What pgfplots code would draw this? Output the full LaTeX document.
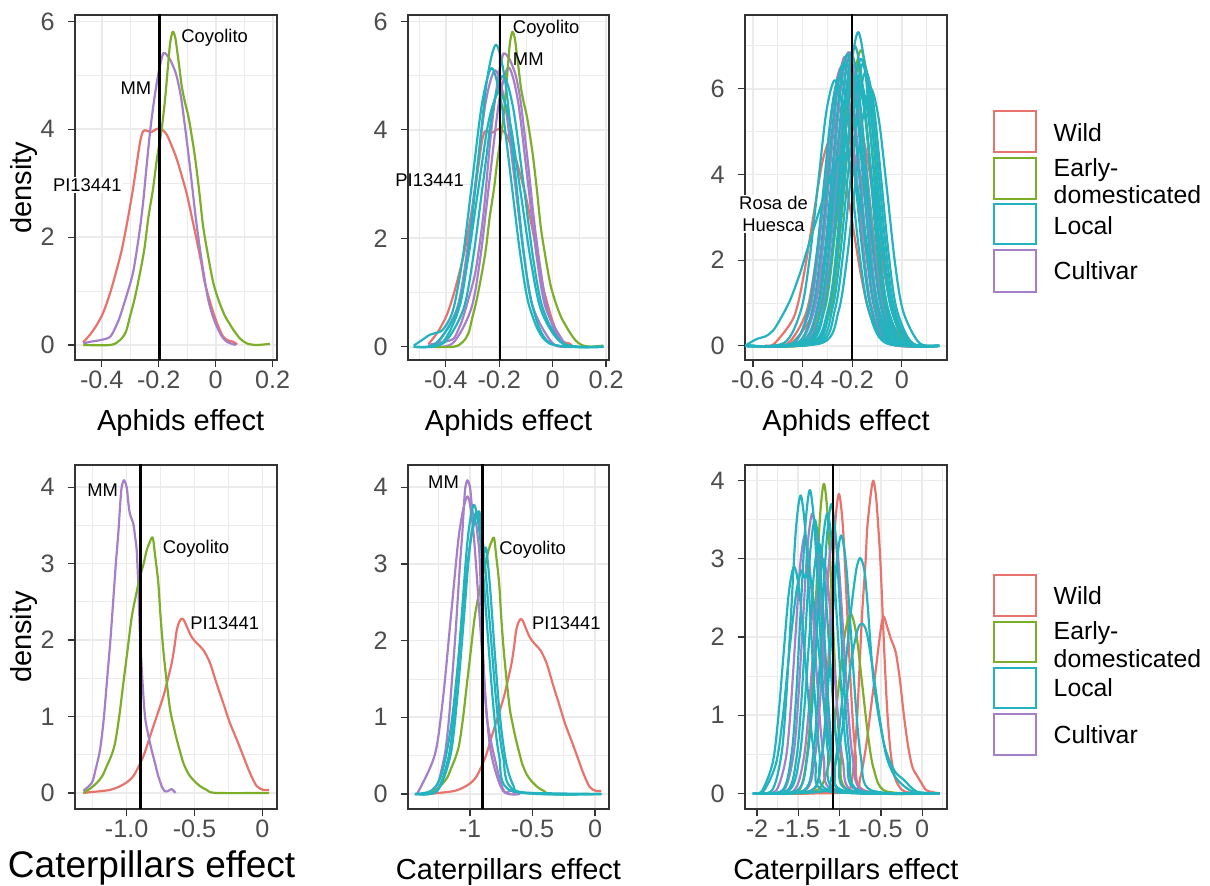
\documentclass[border=0pt]{standalone}
\usepackage{fontspec}
\setmainfont{Liberation Sans}
\usepackage{pgfplots}
\pgfplotsset{compat=1.18}
\definecolor{cR}{HTML}{E8736C}
\definecolor{cG}{HTML}{7CAE2A}
\definecolor{cC}{HTML}{22B3BF}
\definecolor{cP}{HTML}{A57FC8}
\definecolor{g20}{HTML}{333333}
\definecolor{g30}{HTML}{4D4D4D}
\definecolor{gridc}{HTML}{EBEBEB}
\newcommand\annfont{\fontsize{9.2}{11.2}\selectfont}
\newcommand\lgfont{\fontsize{12.4}{12.4}\selectfont}
\pgfplotsset{
  gg/.style={
    scale only axis, width=101pt, height=172.5pt, anchor=south west,
    axis line style={draw=g20, line width=0.7pt},
    tick align=outside, tick pos=left,
    major tick length=3.7pt, minor tick length=0pt,
    major tick style={draw=g20, line width=0.6pt},
    grid=both,
    major grid style={draw=gridc, line width=0.8pt},
    minor grid style={draw=gridc, line width=0.4pt},
    tick label style={font=\fontsize{12.6}{12.6}\selectfont, text=g30, inner sep=0pt},
    xticklabel style={anchor=north, yshift=-1.8pt},
    yticklabel style={anchor=east, xshift=-6.3pt},
    clip mode=individual,
    xlabel style={font=\fontsize{14.5}{14.5}\selectfont, at={(axis description cs:0.5,0)}, anchor=center, yshift=-31.3pt},
    ylabel style={font=\fontsize{14.5}{14.5}\selectfont, at={(axis description cs:0,0.5)}, anchor=center, yshift=25.25pt},
  },
  lR/.style={draw=cR, line width=1.1pt, smooth, tension=0.5, line join=round},
  lG/.style={draw=cG, line width=1.1pt, smooth, tension=0.5, line join=round},
  lC/.style={draw=cC, line width=1.1pt, smooth, tension=0.5, line join=round},
  lP/.style={draw=cP, line width=1.1pt, smooth, tension=0.5, line join=round},
  vl/.style={draw=black, line width=1.25pt},
}
\begin{document}
\begin{tikzpicture}
\useasboundingbox (0,0) rectangle (605pt,443pt);
% ---------------- Panel 1 ----------------
\begin{axis}[gg, at={(37.5pt,263pt)}, xmin=-0.494, xmax=0.215, ymin=-0.278, ymax=6.12,
  xtick={-0.4,-0.2,0,0.2}, xticklabels={-0.4,-0.2,0,0.2}, minor xtick={-0.3,-0.1,0.1},
  ytick={0,2,4,6}, yticklabels={0,2,4,6}, minor ytick={1,3,5},
  xlabel={Aphids effect}, ylabel={density}, xlabel style={xshift=2.3pt}]
\addplot[lR] coordinates {(-0.465,0.05)(-0.44,0.2)(-0.418,0.37)(-0.395,0.6)(-0.371,0.96)(-0.35,1.35)(-0.33,1.76)(-0.31,2.3)(-0.289,2.94)(-0.266,3.75)(-0.254,3.97)(-0.24,3.97)(-0.225,3.95)(-0.21,4.0)(-0.198,4.02)(-0.185,3.98)(-0.172,3.9)(-0.155,3.7)(-0.137,3.45)(-0.12,3.15)(-0.102,2.81)(-0.085,2.4)(-0.067,1.95)(-0.05,1.5)(-0.038,1.14)(-0.02,0.8)(-0.008,0.59)(0.01,0.33)(0.027,0.15)(0.045,0.08)(0.062,0.06)(0.075,0.01)};
\addplot[lP] coordinates {(-0.465,0.03)(-0.44,0.06)(-0.406,0.09)(-0.371,0.15)(-0.35,0.35)(-0.336,0.53)(-0.307,1.02)(-0.29,1.35)(-0.277,1.76)(-0.265,2.2)(-0.254,2.69)(-0.243,3.3)(-0.231,3.93)(-0.22,4.4)(-0.207,4.86)(-0.195,5.2)(-0.184,5.41)(-0.172,5.38)(-0.16,5.29)(-0.148,5.15)(-0.137,4.98)(-0.122,4.6)(-0.108,4.05)(-0.095,3.5)(-0.084,3.0)(-0.07,2.35)(-0.055,1.76)(-0.04,1.25)(-0.026,0.83)(-0.01,0.53)(0.004,0.34)(0.02,0.17)(0.039,0.06)(0.07,0)};
\addplot[lG] coordinates {(-0.465,0)(-0.37,0)(-0.336,0.09)(-0.315,0.25)(-0.301,0.53)(-0.285,0.85)(-0.266,1.33)(-0.25,1.8)(-0.236,2.38)(-0.22,2.9)(-0.207,3.43)(-0.19,4.0)(-0.178,4.55)(-0.168,5.15)(-0.16,5.6)(-0.151,5.81)(-0.143,5.72)(-0.139,5.6)(-0.129,5.2)(-0.119,4.79)(-0.108,4.5)(-0.096,4.24)(-0.085,3.9)(-0.073,3.49)(-0.058,2.85)(-0.044,2.19)(-0.025,1.6)(-0.008,1.14)(0.012,0.8)(0.033,0.53)(0.048,0.4)(0.062,0.28)(0.085,0.12)(0.109,0.03)(0.14,0)(0.17,0.01)(0.19,0.02)};
\addplot[vl] coordinates {(-0.198,-1)(-0.198,10)};
\node[anchor=west, inner sep=0pt, font=\annfont] at (axis cs:-0.122,5.69) {Coyolito};
\node[anchor=east, inner sep=0pt, font=\annfont] at (axis cs:-0.225,4.77) {MM};
\end{axis}
% ---------------- Panel 2 ----------------
\begin{axis}[gg, at={(204pt,263pt)}, width=100.5pt, xmin=-0.5415, xmax=0.211, ymin=-0.245, ymax=6.12,
  xtick={-0.4,-0.2,0,0.2}, xticklabels={-0.4,-0.2,0,0.2}, minor xtick={-0.5,-0.3,-0.1,0.1},
  ytick={0,2,4,6}, yticklabels={0,2,4,6}, minor ytick={1,3,5},
  xlabel={Aphids effect}]
\addplot[lR] coordinates {(-0.465,0.05)(-0.44,0.2)(-0.418,0.37)(-0.395,0.6)(-0.371,0.96)(-0.35,1.35)(-0.33,1.76)(-0.31,2.3)(-0.289,2.94)(-0.266,3.75)(-0.254,3.97)(-0.24,3.97)(-0.225,3.95)(-0.21,4.0)(-0.198,4.02)(-0.185,3.98)(-0.172,3.9)(-0.155,3.7)(-0.137,3.45)(-0.12,3.15)(-0.102,2.81)(-0.085,2.4)(-0.067,1.95)(-0.05,1.5)(-0.038,1.14)(-0.02,0.8)(-0.008,0.59)(0.01,0.33)(0.027,0.15)(0.045,0.08)(0.062,0.06)(0.075,0.01)};
\addplot[lP] coordinates {(-0.465,0.03)(-0.44,0.06)(-0.406,0.09)(-0.371,0.15)(-0.35,0.35)(-0.336,0.53)(-0.307,1.02)(-0.29,1.35)(-0.277,1.76)(-0.265,2.2)(-0.254,2.69)(-0.243,3.3)(-0.231,3.93)(-0.22,4.4)(-0.207,4.86)(-0.195,5.2)(-0.184,5.41)(-0.172,5.38)(-0.16,5.29)(-0.148,5.15)(-0.137,4.98)(-0.122,4.6)(-0.108,4.05)(-0.095,3.5)(-0.084,3.0)(-0.07,2.35)(-0.055,1.76)(-0.04,1.25)(-0.026,0.83)(-0.01,0.53)(0.004,0.34)(0.02,0.17)(0.039,0.06)(0.07,0)};
\addplot[lP] coordinates {(-0.465,0)(-0.431,0.06)(-0.359,0.69)(-0.323,1.66)(-0.287,3.10)(-0.251,4.50)(-0.215,5.1)(-0.179,4.50)(-0.143,3.10)(-0.107,1.66)(-0.071,0.69)(0.001,0.06)(0.07,0)};
\addplot[lP] coordinates {(-0.465,0)(-0.375,0.06)(-0.305,0.70)(-0.27,1.67)(-0.235,3.13)(-0.2,4.54)(-0.165,5.15)(-0.13,4.54)(-0.095,3.13)(-0.06,1.67)(-0.025,0.70)(0.045,0.06)(0.07,0)};
\addplot[lG] coordinates {(-0.465,0)(-0.37,0)(-0.336,0.09)(-0.315,0.25)(-0.301,0.53)(-0.285,0.85)(-0.266,1.33)(-0.25,1.8)(-0.236,2.38)(-0.22,2.9)(-0.207,3.43)(-0.19,4.0)(-0.178,4.55)(-0.168,5.15)(-0.16,5.6)(-0.151,5.81)(-0.143,5.72)(-0.139,5.6)(-0.129,5.2)(-0.119,4.79)(-0.108,4.5)(-0.096,4.24)(-0.085,3.9)(-0.073,3.49)(-0.058,2.85)(-0.044,2.19)(-0.025,1.6)(-0.008,1.14)(0.012,0.8)(0.033,0.53)(0.048,0.4)(0.062,0.28)(0.085,0.12)(0.109,0.03)(0.14,0)(0.17,0.01)(0.19,0.02)};
\addplot[lC] coordinates {(-0.52,0)(-0.416,0.06)(-0.348,0.75)(-0.314,1.81)(-0.28,3.38)(-0.246,4.91)(-0.212,5.57)(-0.178,4.91)(-0.144,3.38)(-0.11,1.81)(-0.076,0.75)(-0.008,0.06)(0.19,0)};
\addplot[lC] coordinates {(-0.52,0.02)(-0.49,0.12)(-0.46,0.22)(-0.44,0.25)(-0.41,0.32)(-0.372,0.69)(-0.336,1.66)(-0.3,3.10)(-0.264,4.50)(-0.228,5.14)(-0.192,4.50)(-0.156,3.10)(-0.12,1.66)(-0.084,0.69)(-0.012,0.06)(0.19,0)};
\addplot[lC] coordinates {(-0.52,0)(-0.41,0.06)(-0.335,0.68)(-0.298,1.63)(-0.26,3.04)(-0.223,4.41)(-0.185,5.0)(-0.148,4.41)(-0.11,3.04)(-0.073,1.63)(-0.035,0.68)(0.04,0.06)(0.19,0)};
\addplot[lC] coordinates {(-0.52,0)(-0.44,0.05)(-0.36,0.63)(-0.32,1.53)(-0.28,2.85)(-0.24,4.15)(-0.2,4.7)(-0.16,4.15)(-0.12,2.85)(-0.08,1.53)(-0.04,0.63)(0.04,0.05)(0.19,0)};
\addplot[vl] coordinates {(-0.197,-1)(-0.197,10)};
\node[anchor=west, inner sep=0pt, font=\annfont] at (axis cs:-0.15,5.86) {Coyolito};
\node[anchor=west, inner sep=0pt, font=\annfont] at (axis cs:-0.15,5.30) {MM};
\node[anchor=east, inner sep=0pt, font=\annfont] at (axis cs:-0.3305,3.08) {PI13441};
\end{axis}
% ---------------- Panel 3 ----------------
\begin{axis}[gg, at={(372.5pt,263pt)}, xmin=-0.632, xmax=0.182, ymin=-0.33, ymax=7.72,
  xtick={-0.6,-0.4,-0.2,0}, xticklabels={-0.6,-0.4,-0.2,0}, minor xtick={-0.5,-0.3,-0.1,0.1},
  ytick={0,2,4,6}, yticklabels={0,2,4,6}, minor ytick={1,3,5,7},
  xlabel={Aphids effect}]
\addplot[lR] coordinates {(-0.55,0)(-0.459,0.06)(-0.387,0.75)(-0.351,1.81)(-0.315,3.38)(-0.279,4.91)(-0.243,5.57)(-0.207,4.91)(-0.171,3.38)(-0.135,1.81)(-0.099,0.75)(-0.027,0.06)(0.1,0)};
\addplot[lR] coordinates {(-0.55,0)(-0.407,0.06)(-0.332,0.70)(-0.295,1.68)(-0.257,3.14)(-0.220,4.57)(-0.182,5.18)(-0.145,4.57)(-0.107,3.14)(-0.070,1.68)(-0.032,0.70)(0.043,0.06)(0.1,0)};
\addplot[lR] coordinates {(-0.55,0)(-0.514,0.05)(-0.436,0.66)(-0.397,1.59)(-0.358,2.97)(-0.319,4.32)(-0.28,4.9)(-0.241,4.32)(-0.202,2.97)(-0.163,1.59)(-0.124,0.66)(-0.046,0.05)(0.1,0)};
\addplot[lR] coordinates {(-0.55,0)(-0.45,0.05)(-0.37,0.62)(-0.33,1.50)(-0.29,2.79)(-0.25,4.06)(-0.21,4.6)(-0.17,4.06)(-0.13,2.79)(-0.09,1.50)(-0.05,0.62)(0.03,0.05)(0.1,0)};
\addplot[lG] coordinates {(-0.5,0)(-0.371,0.07)(-0.309,0.89)(-0.278,2.15)(-0.247,4.01)(-0.216,5.82)(-0.185,6.6)(-0.154,5.82)(-0.123,4.01)(-0.092,2.15)(-0.061,0.89)(0.001,0.07)(0.12,0)};
\addplot[lG] coordinates {(-0.5,0)(-0.345,0.08)(-0.285,0.93)(-0.255,2.24)(-0.225,4.19)(-0.195,6.09)(-0.165,6.9)(-0.135,6.09)(-0.105,4.19)(-0.075,2.24)(-0.045,0.93)(0.015,0.08)(0.12,0)};
\addplot[lG] coordinates {(-0.5,0)(-0.398,0.07)(-0.332,0.81)(-0.299,1.95)(-0.266,3.64)(-0.233,5.29)(-0.2,6.0)(-0.167,5.29)(-0.134,3.64)(-0.101,1.95)(-0.068,0.81)(-0.002,0.07)(0.12,0)};
\addplot[lP] coordinates {(-0.52,0)(-0.395,0.08)(-0.335,0.92)(-0.305,2.23)(-0.275,4.16)(-0.245,6.04)(-0.215,6.85)(-0.185,6.04)(-0.155,4.16)(-0.125,2.23)(-0.095,0.92)(-0.035,0.08)(0.08,0)};
\addplot[lP] coordinates {(-0.52,0)(-0.431,0.07)(-0.369,0.88)(-0.338,2.11)(-0.307,3.95)(-0.276,5.73)(-0.245,6.5)(-0.214,5.73)(-0.183,3.95)(-0.152,2.11)(-0.121,0.88)(-0.059,0.07)(0.08,0)};
\addplot[lP] coordinates {(-0.52,0)(-0.41,0.07)(-0.35,0.91)(-0.32,2.19)(-0.29,4.10)(-0.26,5.95)(-0.23,6.75)(-0.2,5.95)(-0.17,4.10)(-0.14,2.19)(-0.11,0.91)(-0.05,0.07)(0.08,0)};
\addplot[lP] coordinates {(-0.52,0)(-0.386,0.07)(-0.324,0.86)(-0.293,2.08)(-0.262,3.88)(-0.231,5.64)(-0.2,6.4)(-0.169,5.64)(-0.138,3.88)(-0.107,2.08)(-0.076,0.86)(-0.014,0.07)(0.08,0)};
\addplot[lC] coordinates {(-0.63,0)(-0.347,0.08)(-0.29,0.99)(-0.262,2.38)(-0.233,4.44)(-0.205,6.46)(-0.176,7.32)(-0.148,6.46)(-0.119,4.44)(-0.091,2.38)(-0.062,0.99)(-0.005,0.08)(0.15,0)};
\addplot[lC] coordinates {(-0.63,0)(-0.37,0.08)(-0.31,0.95)(-0.28,2.28)(-0.25,4.25)(-0.22,6.17)(-0.19,7.0)(-0.16,6.17)(-0.13,4.25)(-0.1,2.28)(-0.07,0.95)(-0.01,0.08)(0.15,0)};
\addplot[lC] coordinates {(-0.63,0)(-0.385,0.08)(-0.325,0.92)(-0.295,2.23)(-0.265,4.16)(-0.235,6.04)(-0.205,6.85)(-0.175,6.04)(-0.145,4.16)(-0.115,2.23)(-0.085,0.92)(-0.025,0.08)(0.15,0)};
\addplot[lC] coordinates {(-0.63,0)(-0.4,0.07)(-0.34,0.92)(-0.31,2.21)(-0.28,4.13)(-0.25,6.0)(-0.22,6.8)(-0.19,6.0)(-0.16,4.13)(-0.13,2.21)(-0.1,0.92)(-0.04,0.07)(0.15,0)};
\addplot[lC] coordinates {(-0.63,0)(-0.354,0.07)(-0.291,0.90)(-0.260,2.18)(-0.228,4.07)(-0.197,5.91)(-0.165,6.7)(-0.134,5.91)(-0.102,4.07)(-0.071,2.18)(-0.039,0.90)(0.024,0.07)(0.15,0)};
\addplot[lC] coordinates {(-0.63,0)(-0.341,0.07)(-0.279,0.89)(-0.248,2.15)(-0.217,4.01)(-0.186,5.82)(-0.155,6.6)(-0.124,5.82)(-0.093,4.01)(-0.062,2.15)(-0.031,0.89)(0.031,0.07)(0.15,0)};
\addplot[lC] coordinates {(-0.63,0)(-0.421,0.07)(-0.359,0.89)(-0.328,2.15)(-0.297,4.01)(-0.266,5.82)(-0.235,6.6)(-0.204,5.82)(-0.173,4.01)(-0.142,2.15)(-0.111,0.89)(-0.049,0.07)(0.15,0)};
\addplot[lC] coordinates {(-0.63,0)(-0.38,0.07)(-0.315,0.85)(-0.283,2.05)(-0.25,3.82)(-0.218,5.56)(-0.185,6.3)(-0.153,5.56)(-0.12,3.82)(-0.088,2.05)(-0.055,0.85)(0.01,0.07)(0.15,0)};
\addplot[lC] coordinates {(-0.63,0)(-0.408,0.07)(-0.342,0.82)(-0.309,1.98)(-0.276,3.70)(-0.243,5.38)(-0.21,6.1)(-0.177,5.38)(-0.144,3.70)(-0.111,1.98)(-0.078,0.82)(-0.012,0.07)(0.15,0)};
\addplot[lC] coordinates {(-0.63,0)(-0.362,0.07)(-0.298,0.84)(-0.266,2.02)(-0.234,3.76)(-0.202,5.47)(-0.17,6.2)(-0.138,5.47)(-0.106,3.76)(-0.074,2.02)(-0.042,0.84)(0.022,0.07)(0.15,0)};
\addplot[lC] coordinates {(-0.63,0)(-0.331,0.07)(-0.269,0.86)(-0.238,2.08)(-0.207,3.88)(-0.176,5.64)(-0.145,6.4)(-0.114,5.64)(-0.083,3.88)(-0.052,2.08)(-0.021,0.86)(0.041,0.07)(0.15,0)};
\addplot[lC] coordinates {(-0.63,0)(-0.439,0.07)(-0.376,0.85)(-0.345,2.05)(-0.313,3.82)(-0.282,5.56)(-0.25,6.3)(-0.219,5.56)(-0.187,3.82)(-0.156,2.05)(-0.124,0.85)(-0.061,0.07)(0.15,0)};
\addplot[lC] coordinates {(-0.63,0)(-0.474,0.07)(-0.406,0.84)(-0.372,2.02)(-0.338,3.76)(-0.304,5.47)(-0.27,6.2)(-0.236,5.47)(-0.202,3.76)(-0.168,2.02)(-0.134,0.84)(-0.066,0.07)(0.15,0)};
\addplot[lC] coordinates {(-0.63,0)(-0.32,0.07)(-0.255,0.81)(-0.223,1.95)(-0.19,3.64)(-0.158,5.29)(-0.125,6.0)(-0.093,5.29)(-0.06,3.64)(-0.028,1.95)(0.005,0.81)(0.07,0.07)(0.15,0)};
\addplot[lC] coordinates {(-0.63,0)(-0.61,0.08)(-0.58,0.17)(-0.55,0.22)(-0.52,0.35)(-0.49,0.62)(-0.45,1.07)(-0.41,1.7)(-0.37,2.46)(-0.33,3.2)(-0.3,3.75)(-0.27,4.2)(-0.245,4.45)(-0.22,4.4)(-0.19,3.95)(-0.16,3.05)(-0.13,1.95)(-0.1,1.0)(-0.07,0.4)(-0.04,0.12)(0.0,0.02)(0.15,0)};
\addplot[vl] coordinates {(-0.2,-1)(-0.2,10)};
\end{axis}
% ---------------- Panel 4 ----------------
\begin{axis}[gg, at={(37.5pt,38.5pt)}, height=172pt, xmin=-1.381, xmax=0.108, ymin=-0.21, ymax=4.29,
  xtick={-1,-0.5,0}, xticklabels={-1.0,-0.5,0}, minor xtick={-1.25,-0.75,-0.25},
  ytick={0,1,2,3,4}, yticklabels={0,1,2,3,4}, minor ytick={0.5,1.5,2.5,3.5},
  xlabel={Caterpillars effect}, ylabel={density},
  xlabel style={font=\fontsize{18.5}{18.5}\selectfont, at={(axis description cs:0,0)}, anchor=center, xshift=38.3pt, yshift=1.6pt}]
\addplot[lR] coordinates {(-1.32,0)(-1.27,0.01)(-1.123,0.04)(-1.025,0.11)(-0.951,0.22)(-0.877,0.48)(-0.828,0.74)(-0.779,1.0)(-0.73,1.26)(-0.705,1.43)(-0.668,1.70)(-0.645,1.95)(-0.631,2.13)(-0.612,2.24)(-0.595,2.28)(-0.578,2.26)(-0.558,2.18)(-0.521,2.04)(-0.484,1.96)(-0.435,1.87)(-0.386,1.70)(-0.337,1.43)(-0.287,1.17)(-0.238,0.91)(-0.189,0.70)(-0.14,0.48)(-0.091,0.26)(-0.042,0.09)(0.007,0.04)(0.05,0.04)};
\addplot[lP] coordinates {(-1.32,0.03)(-1.258,0.13)(-1.23,0.3)(-1.197,0.56)(-1.17,0.95)(-1.147,1.43)(-1.12,2.0)(-1.099,2.52)(-1.08,3.0)(-1.062,3.39)(-1.047,3.8)(-1.037,4.0)(-1.02,4.09)(-1.0,4.0)(-0.988,3.8)(-0.976,3.65)(-0.951,3.52)(-0.938,3.35)(-0.926,3.17)(-0.914,2.7)(-0.902,2.09)(-0.885,1.5)(-0.865,1.0)(-0.84,0.75)(-0.816,0.56)(-0.79,0.38)(-0.767,0.22)(-0.74,0.08)(-0.717,0.02)(-0.69,0.03)(-0.67,0.05)(-0.65,0.02)(-0.64,0)};
\addplot[lG] coordinates {(-1.32,0)(-1.3,0.02)(-1.26,0.07)(-1.221,0.13)(-1.18,0.22)(-1.147,0.35)(-1.115,0.48)(-1.086,0.65)(-1.055,1.0)(-1.025,1.43)(-0.995,1.85)(-0.963,2.30)(-0.93,2.6)(-0.902,2.83)(-0.875,3.0)(-0.853,3.17)(-0.83,3.28)(-0.808,3.34)(-0.79,3.1)(-0.767,2.75)(-0.75,2.3)(-0.73,1.87)(-0.705,1.45)(-0.68,1.09)(-0.655,0.88)(-0.631,0.70)(-0.6,0.5)(-0.582,0.39)(-0.545,0.25)(-0.509,0.17)(-0.46,0.09)(-0.41,0.04)(-0.34,0)(0.05,0)};
\addplot[vl] coordinates {(-0.9,-1)(-0.9,10)};
\node[anchor=east, inner sep=0pt, font=\annfont] at (axis cs:-1.061,3.96) {MM};
\node[anchor=west, inner sep=0pt, font=\annfont] at (axis cs:-0.737,3.19) {Coyolito};
\node[anchor=west, inner sep=0pt, font=\annfont] at (axis cs:-0.533,2.22) {PI13441};
\end{axis}
% ---------------- Panel 5 ----------------
\begin{axis}[gg, at={(204pt,38.5pt)}, width=100.5pt, height=172pt, xmin=-1.496, xmax=0.112, ymin=-0.196, ymax=4.29,
  xtick={-1,-0.5,0}, xticklabels={-1,-0.5,0}, minor xtick={-1.25,-0.75,-0.25},
  ytick={0,1,2,3,4}, yticklabels={0,1,2,3,4}, minor ytick={0.5,1.5,2.5,3.5},
  xlabel={Caterpillars effect}]
\addplot[lR] coordinates {(-1.32,0)(-1.27,0.01)(-1.123,0.04)(-1.025,0.11)(-0.951,0.22)(-0.877,0.48)(-0.828,0.74)(-0.779,1.0)(-0.73,1.26)(-0.705,1.43)(-0.668,1.70)(-0.645,1.95)(-0.631,2.13)(-0.612,2.24)(-0.595,2.28)(-0.578,2.26)(-0.558,2.18)(-0.521,2.04)(-0.484,1.96)(-0.435,1.87)(-0.386,1.70)(-0.337,1.43)(-0.287,1.17)(-0.238,0.91)(-0.189,0.70)(-0.14,0.48)(-0.091,0.26)(-0.042,0.09)(0.007,0.04)(0.05,0.04)};
\addplot[lG] coordinates {(-1.32,0)(-1.3,0.02)(-1.26,0.07)(-1.221,0.13)(-1.18,0.22)(-1.147,0.35)(-1.115,0.48)(-1.086,0.65)(-1.055,1.0)(-1.025,1.43)(-0.995,1.85)(-0.963,2.30)(-0.93,2.6)(-0.902,2.83)(-0.875,3.0)(-0.853,3.17)(-0.83,3.28)(-0.808,3.34)(-0.79,3.1)(-0.767,2.75)(-0.75,2.3)(-0.73,1.87)(-0.705,1.45)(-0.68,1.09)(-0.655,0.88)(-0.631,0.70)(-0.6,0.5)(-0.582,0.39)(-0.545,0.25)(-0.509,0.17)(-0.46,0.09)(-0.41,0.04)(-0.34,0)(0.05,0)};
\addplot[lP] coordinates {(-1.32,0.03)(-1.258,0.13)(-1.23,0.3)(-1.197,0.56)(-1.17,0.95)(-1.147,1.43)(-1.12,2.0)(-1.099,2.52)(-1.08,3.0)(-1.062,3.39)(-1.047,3.8)(-1.037,4.0)(-1.02,4.09)(-1.0,4.0)(-0.988,3.8)(-0.976,3.65)(-0.951,3.52)(-0.938,3.35)(-0.926,3.17)(-0.914,2.7)(-0.902,2.09)(-0.885,1.5)(-0.865,1.0)(-0.84,0.75)(-0.816,0.56)(-0.79,0.38)(-0.767,0.22)(-0.74,0.08)(-0.717,0.02)(-0.69,0.03)(-0.67,0.05)(-0.65,0.02)(-0.64,0)};
\addplot[lP] coordinates {(-1.44,0)(-1.41,0.04)(-1.28,0.52)(-1.215,1.26)(-1.15,2.36)(-1.085,3.42)(-1.02,3.88)(-0.973,3.42)(-0.925,2.36)(-0.878,1.26)(-0.83,0.52)(-0.735,0.04)(-0.6,0)};
\addplot[lC] coordinates {(-1.44,0)(-1.268,0.04)(-1.168,0.51)(-1.118,1.23)(-1.068,2.29)(-1.018,3.33)(-0.968,3.77)(-0.918,3.33)(-0.868,2.29)(-0.818,1.23)(-0.768,0.51)(-0.668,0.04)(0.05,0)};
\addplot[lC] coordinates {(-1.44,0)(-1.262,0.04)(-1.157,0.50)(-1.105,1.20)(-1.052,2.23)(-1.0,3.25)(-0.947,3.68)(-0.895,3.25)(-0.842,2.23)(-0.79,1.20)(-0.737,0.50)(-0.632,0.04)(0.05,0)};
\addplot[lC] coordinates {(-1.44,0)(-1.3,0.05)(-1.22,0.3)(-1.15,0.9)(-1.09,1.8)(-1.04,2.7)(-0.99,3.35)(-0.95,3.62)(-0.925,3.68)(-0.905,3.45)(-0.89,3.15)(-0.87,3.2)(-0.84,2.7)(-0.8,1.8)(-0.76,1.0)(-0.71,0.4)(-0.65,0.1)(-0.58,0.02)(0.05,0)};
\addplot[vl] coordinates {(-0.9,-1)(-0.9,10)};
\node[anchor=east, inner sep=0pt, font=\annfont] at (axis cs:-1.086,4.07) {MM};
\node[anchor=west, inner sep=0pt, font=\annfont] at (axis cs:-0.768,3.19) {Coyolito};
\node[anchor=west, inner sep=0pt, font=\annfont] at (axis cs:-0.506,2.23) {PI13441};
\end{axis}
% ---------------- Panel 6 ----------------
\begin{axis}[gg, at={(372.5pt,38.5pt)}, height=172pt, xmin=-2.145, xmax=0.30, ymin=-0.2, ymax=4.2,
  xtick={-2,-1.5,-1,-0.5,0}, xticklabels={-2,-1.5,-1,-0.5,0}, minor xtick={-1.75,-1.25,-0.75,-0.25,0.25},
  ytick={0,1,2,3,4}, yticklabels={0,1,2,3,4}, minor ytick={0.5,1.5,2.5,3.5},
  xlabel={Caterpillars effect}]
\addplot[lR] coordinates {(-1.6,0)(-1.308,0.04)(-1.208,0.52)(-1.158,1.24)(-1.108,2.32)(-1.058,3.38)(-1.008,3.83)(-0.958,3.38)(-0.908,2.32)(-0.858,1.24)(-0.808,0.52)(-0.708,0.04)(0.21,0)};
\addplot[lR] coordinates {(-1.6,0)(-0.95,0.02)(-0.86,0.12)(-0.82,0.5)(-0.786,1.0)(-0.755,1.7)(-0.725,2.34)(-0.685,2.98)(-0.665,3.4)(-0.62,3.85)(-0.592,4.0)(-0.565,3.85)(-0.544,3.6)(-0.507,2.98)(-0.475,2.2)(-0.45,1.6)(-0.42,1.0)(-0.38,0.5)(-0.33,0.2)(-0.25,0.05)(-0.15,0.01)(0.21,0)};
\addplot[lR] coordinates {(-1.6,0)(-0.85,0.02)(-0.75,0.2)(-0.68,0.6)(-0.62,1.1)(-0.56,1.6)(-0.524,1.92)(-0.49,2.18)(-0.464,2.26)(-0.43,2.15)(-0.38,1.98)(-0.32,1.8)(-0.27,1.45)(-0.22,0.98)(-0.17,0.6)(-0.12,0.34)(-0.06,0.22)(-0.02,0.15)(0.04,0.05)(0.1,0.02)(0.21,0)};
\addplot[lG] coordinates {(-1.8,0)(-1.49,0.04)(-1.39,0.53)(-1.34,1.29)(-1.29,2.40)(-1.24,3.49)(-1.19,3.96)(-1.14,3.49)(-1.09,2.40)(-1.04,1.29)(-0.99,0.53)(-0.89,0.04)(0.1,0)};
\addplot[lG] coordinates {(-1.8,0)(-1.287,0.03)(-1.147,0.31)(-1.077,0.75)(-1.007,1.40)(-0.937,2.03)(-0.867,2.30)(-0.797,2.03)(-0.727,1.40)(-0.657,0.75)(-0.587,0.31)(-0.447,0.03)(0.1,0)};
\addplot[lP] coordinates {(-1.95,0)(-1.675,0.04)(-1.56,0.48)(-1.503,1.16)(-1.445,2.17)(-1.388,3.16)(-1.33,3.58)(-1.273,3.16)(-1.215,2.17)(-1.158,1.16)(-1.1,0.48)(-0.985,0.04)(0,0)};
\addplot[lP] coordinates {(-1.95,0)(-1.415,0.04)(-1.3,0.45)(-1.243,1.09)(-1.185,2.04)(-1.128,2.96)(-1.07,3.36)(-1.013,2.96)(-0.955,2.04)(-0.898,1.09)(-0.84,0.45)(-0.725,0.04)(0,0)};
\addplot[lP] coordinates {(-1.95,0)(-1.56,0.03)(-1.44,0.41)(-1.38,0.98)(-1.32,1.82)(-1.26,2.65)(-1.2,3.0)(-1.14,2.65)(-1.08,1.82)(-1.02,0.98)(-0.96,0.41)(-0.84,0.03)(0,0)};
\addplot[lP] coordinates {(-1.95,0)(-1.765,0.04)(-1.65,0.45)(-1.593,1.07)(-1.535,2.0)(-1.478,2.91)(-1.42,3.3)(-1.363,2.91)(-1.305,2.0)(-1.248,1.07)(-1.19,0.45)(-1.075,0.04)(0,0)};
\addplot[lC] coordinates {(-2.05,0)(-1.817,0.04)(-1.702,0.51)(-1.645,1.24)(-1.587,2.31)(-1.530,3.36)(-1.472,3.81)(-1.415,3.36)(-1.357,2.31)(-1.300,1.24)(-1.242,0.51)(-1.127,0.04)(0.21,0)};
\addplot[lC] coordinates {(-2.05,0)(-1.69,0.04)(-1.58,0.52)(-1.525,1.26)(-1.47,2.36)(-1.415,3.42)(-1.36,3.88)(-1.305,3.42)(-1.25,2.36)(-1.195,1.26)(-1.14,0.52)(-1.03,0.04)(0.21,0)};
\addplot[lC] coordinates {(-2.05,0)(-1.509,0.04)(-1.389,0.48)(-1.329,1.16)(-1.269,2.17)(-1.209,3.16)(-1.149,3.58)(-1.089,3.16)(-1.029,2.17)(-0.969,1.16)(-0.909,0.48)(-0.789,0.04)(0.21,0)};
\addplot[lC] coordinates {(-2.05,0)(-1.92,0.03)(-1.77,0.38)(-1.69,0.95)(-1.6,1.9)(-1.52,2.6)(-1.46,2.85)(-1.42,2.75)(-1.38,2.85)(-1.33,2.6)(-1.25,1.8)(-1.17,0.95)(-1.08,0.38)(-0.95,0.03)(0.21,0)};
\addplot[lC] coordinates {(-2.05,0)(-1.61,0.04)(-1.49,0.43)(-1.43,1.04)(-1.37,1.94)(-1.31,2.82)(-1.25,3.2)(-1.19,2.82)(-1.13,1.94)(-1.07,1.04)(-1.01,0.43)(-0.89,0.04)(0.21,0)};
\addplot[lC] coordinates {(-2.05,0)(-1.15,0.04)(-1.05,0.4)(-0.95,1.4)(-0.87,2.26)(-0.8,2.85)(-0.75,3.01)(-0.7,2.85)(-0.665,2.47)(-0.585,1.40)(-0.464,0.64)(-0.343,0.30)(-0.22,0.17)(-0.06,0.02)(0.21,0)};
\addplot[lC] coordinates {(-2.05,0)(-1.2,0.03)(-1.1,0.2)(-1.0,0.6)(-0.92,1.2)(-0.85,1.75)(-0.78,2.1)(-0.725,2.17)(-0.67,2.05)(-0.6,1.6)(-0.52,1.0)(-0.44,0.5)(-0.35,0.25)(-0.25,0.12)(-0.1,0.02)(0.21,0)};
\addplot[lC] coordinates {(-2.05,0)(-1.43,0.04)(-1.32,0.50)(-1.265,1.20)(-1.21,2.25)(-1.155,3.26)(-1.1,3.7)(-1.045,3.26)(-0.99,2.25)(-0.935,1.20)(-0.88,0.50)(-0.77,0.04)(0.21,0)};
\addplot[lC] coordinates {(-2.05,0)(-1.34,0.04)(-1.22,0.45)(-1.16,1.07)(-1.1,2.0)(-1.04,2.91)(-0.98,3.3)(-0.92,2.91)(-0.86,2.0)(-0.8,1.07)(-0.74,0.45)(-0.62,0.04)(0.21,0)};
\addplot[lC] coordinates {(-2.05,0)(-1.63,0.04)(-1.52,0.47)(-1.465,1.14)(-1.41,2.12)(-1.355,3.09)(-1.3,3.5)(-1.245,3.09)(-1.19,2.12)(-1.135,1.14)(-1.08,0.47)(-0.97,0.04)(0.21,0)};
\addplot[lC] coordinates {(-2.05,0)(-1.94,0.03)(-1.81,0.39)(-1.745,0.94)(-1.68,1.76)(-1.615,2.56)(-1.55,2.9)(-1.485,2.56)(-1.42,1.76)(-1.355,0.94)(-1.29,0.39)(-1.16,0.03)(0.21,0)};
\addplot[vl] coordinates {(-1.078,-1)(-1.078,10)};
\end{axis}
% ---------------- labels drawn over the panel borders ----------------
\node[anchor=east, inner sep=0.6pt, fill=white, font=\annfont] at (61.6pt,350.5pt) {PI13441};
\node[align=center, inner sep=0.6pt, fill=white, font=\annfont] at (386.75pt,336.1pt) {Rosa de\\Huesca};
% ---------------- Legends ----------------
\begin{scope}[line width=1pt]
\draw[cR] (497.15pt,366.85pt) rectangle (518.15pt,387.5pt);
\draw[cG] (497.15pt,343.5pt) rectangle (518.15pt,364.15pt);
\draw[cC] (497.15pt,321pt) rectangle (518.15pt,340.85pt);
\draw[cP] (497.15pt,297.15pt) rectangle (518.15pt,317.85pt);
\draw[cR] (497.15pt,135.15pt) rectangle (518.15pt,155.5pt);
\draw[cG] (497.15pt,111.85pt) rectangle (518.15pt,132pt);
\draw[cC] (497.15pt,88.85pt) rectangle (518.15pt,108.85pt);
\draw[cP] (497.15pt,65.5pt) rectangle (518.15pt,85.85pt);
\end{scope}
\begin{scope}[every node/.style={anchor=base west, inner sep=0pt, font=\lgfont}]
\node at (526.65pt,372.15pt) {Wild};
\node at (526.65pt,354.65pt) {Early-};
\node at (526.65pt,341pt) {domesticated};
\node at (526.65pt,325.5pt) {Local};
\node at (526.65pt,303pt) {Cultivar};
\node at (526.65pt,140.5pt) {Wild};
\node at (526.65pt,123pt) {Early-};
\node at (526.65pt,109.35pt) {domesticated};
\node at (526.65pt,94.65pt) {Local};
\node at (526.65pt,71.35pt) {Cultivar};
\end{scope}
\end{tikzpicture}
\end{document}
